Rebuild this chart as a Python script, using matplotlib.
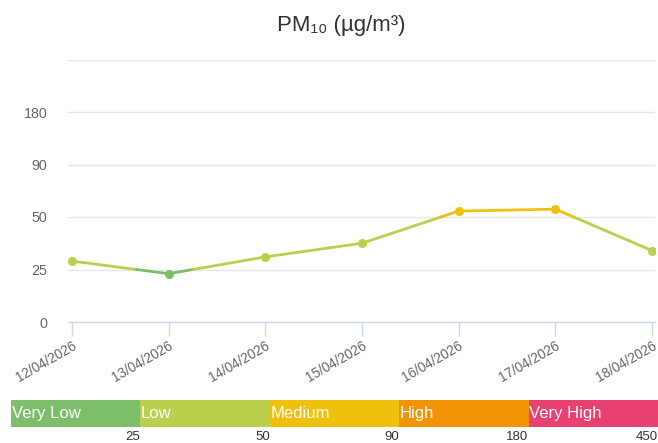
import numpy as np
import matplotlib
matplotlib.use("Agg")
import matplotlib.pyplot as plt

plt.rcParams['font.family'] = ['Liberation Sans', 'DejaVu Sans']

dates = ["12/04/2026", "13/04/2026", "14/04/2026", "15/04/2026",
         "16/04/2026", "17/04/2026", "18/04/2026"]
pm10 = [29, 23, 31, 37.5, 54.5, 56, 34]

thresholds = [0, 25, 50, 90, 180, 450]
ytick_labels = ["0", "25", "50", "90", "180"]
level_names = ["Very Low", "Low", "Medium", "High", "Very High"]
level_colors = ["#7cbe6a", "#bccf4c", "#efc10c", "#f29306", "#e84171"]

band_idx = np.arange(len(thresholds))


def to_band(v):
    return np.interp(v, thresholds, band_idx)


def level_of(b):
    return int(min(max(np.floor(b), 0), len(level_colors) - 1))


W, H = 658, 443
fig = plt.figure(figsize=(W / 100, H / 100), dpi=100)

ax_l, ax_r, ax_b, ax_t = 68, 655, 322, 59.5
ax = fig.add_axes([ax_l / W, 1 - ax_b / H, (ax_r - ax_l) / W, (ax_b - ax_t) / H])

x = np.arange(len(dates))
yb = to_band(np.array(pm10))

# split segments at band boundaries and colour by level
for i in range(len(x) - 1):
    x0, x1, y0, y1 = x[i], x[i + 1], yb[i], yb[i + 1]
    cuts = [0.0]
    lo, hi = sorted([y0, y1])
    for k in range(1, len(thresholds) - 1):
        if lo < k < hi:
            cuts.append((k - y0) / (y1 - y0))
    cuts.append(1.0)
    cuts.sort()
    for a, b in zip(cuts[:-1], cuts[1:]):
        xa, xb_ = x0 + a * (x1 - x0), x0 + b * (x1 - x0)
        ya, yb_ = y0 + a * (y1 - y0), y0 + b * (y1 - y0)
        col = level_colors[level_of((ya + yb_) / 2)]
        ax.plot([xa, xb_], [ya, yb_], color=col, lw=2, solid_capstyle='round', zorder=3)

for xi, bi in zip(x, yb):
    ax.plot(xi, bi, 'o', ms=6.5, color=level_colors[level_of(bi)], mec='none', zorder=4)

ax.set_xlim(-4 / 96.67, 6 + 3 / 96.67)
ax.set_ylim(0, 5)
ax.set_yticks(range(len(ytick_labels)))
ax.set_yticklabels(ytick_labels)
for g in range(1, 6):
    ax.axhline(g, color="#e6e6e6", lw=1, zorder=1)

for s in ["top", "right", "left"]:
    ax.spines[s].set_visible(False)
ax.spines["bottom"].set_color("#ccd6eb")
ax.spines["bottom"].set_linewidth(1)

ax.tick_params(axis='y', length=0, pad=15, labelsize=10.3, labelcolor="#666666")
ax.set_xticks(x)
ax.set_xticklabels(dates, rotation=30, ha='right', rotation_mode='anchor')
ax.tick_params(axis='x', length=10, color="#ccd6eb", width=1, pad=2,
               labelsize=9.8, labelcolor="#666666")

fig.text(341 / W, 1 - 25 / H, "PM₁₀ (µg/m³)", ha='center', va='center',
         fontsize=16, color="#333333")

# colour scale bar
bar_l, bar_r, bar_top, bar_bot = 11, 658, 400, 427
bax = fig.add_axes([bar_l / W, 1 - bar_bot / H, (bar_r - bar_l) / W, (bar_bot - bar_top) / H])
n = len(level_names)
bax.barh(0, [1] * n, left=np.arange(n), height=1, color=level_colors, align='edge')
bax.set_xlim(0, n)
bax.set_ylim(0, 1)
bax.axis('off')
for i, name in enumerate(level_names):
    bax.text(i + 0.005, 0.5, name, ha='left', va='center', color='white', fontsize=12)

seg_w = (bar_r - bar_l) / n
for i, t in enumerate(thresholds[1:]):
    fig.text((bar_l + seg_w * (i + 1)) / W, 1 - 437 / H, str(t), ha='right', va='center',
             fontsize=9.5, color="#333333")

fig.savefig("out.png", dpi=100)
